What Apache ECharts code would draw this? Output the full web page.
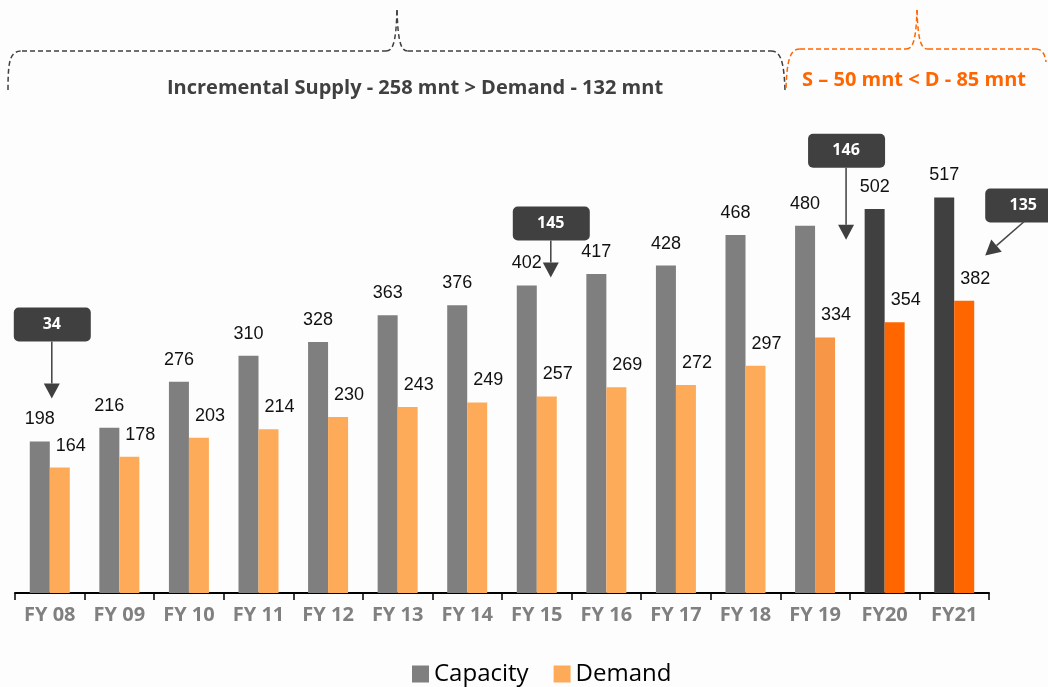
<!DOCTYPE html>
<html>
<head>
<meta charset="utf-8">
<script src="https://cdn.jsdelivr.net/npm/echarts@6/dist/echarts.min.js"></script>
<style>
  html, body { margin: 0; padding: 0; background: #fdfdfe; }
  #chart { width: 1048px; height: 687px; }
</style>
</head>
<body>
<div id="chart"></div>
<script>
// data
const categories = ['FY 08', 'FY 09', 'FY 10', 'FY 11', 'FY 12', 'FY 13', 'FY 14',
  'FY 15', 'FY 16', 'FY 17', 'FY 18', 'FY 19', 'FY20', 'FY21'];
const capacity = [198, 216, 276, 310, 328, 363, 376, 402, 417, 428, 468, 480, 502, 517];
const demand = [164, 178, 203, 214, 230, 243, 249, 257, 269, 272, 297, 334, 354, 382];
const projected = ['FY20', 'FY21'];
const gapYears = ['FY 08', 'FY 15', 'FY 19', 'FY21'];   // callouts = capacity - demand
const supplyNote = 'Incremental Supply - 258 mnt > Demand - 132 mnt';
const projNote = 'S \u2013 50 mnt < D - 85 mnt';

const FONT = '"Open Sans", "DejaVu Sans", sans-serif';
const DARK = '#404040';
const ORANGE = '#ff6600';

var chartDom = document.getElementById('chart');
var myChart = echarts.init(chartDom);

const capData = capacity.map((v, i) => ({
  value: v,
  itemStyle: { color: projected.includes(categories[i]) ? DARK : '#7f7f7f' }
}));
const demData = demand.map((v, i) => {
  let c = '#fdab59';
  if (projected.includes(categories[i])) c = ORANGE;
  else if (categories[i] === 'FY 19') c = '#f79646';
  return { value: v, itemStyle: { color: c } };
});

const labelStyle = {
  show: true,
  position: 'top',
  distance: 13,
  fontFamily: '"Liberation Sans", Arial, sans-serif',
  fontSize: 18,
  color: '#111'
};

var option = {
  backgroundColor: '#fdfdfe',
  animation: false,
  grid: { left: 15, right: 59, top: 134, bottom: 94 },
  legend: {
    data: ['Capacity', 'Demand'],
    left: 407,
    top: 657,
    icon: 'rect',
    itemWidth: 17,
    itemHeight: 17,
    itemGap: 25,
    textStyle: { fontFamily: FONT, fontSize: 24, color: '#000' }
  },
  xAxis: {
    type: 'category',
    data: categories,
    axisLine: { lineStyle: { color: '#000', width: 2 } },
    axisTick: { show: true, length: 7, lineStyle: { color: '#000', width: 1.5 } },
    axisLabel: {
      margin: 12,
      fontFamily: FONT,
      fontWeight: 'bold',
      fontSize: 20,
      color: '#808080'
    }
  },
  yAxis: {
    type: 'value',
    min: 0,
    max: 600,
    show: false,
    splitLine: { show: false }
  },
  series: [
    {
      name: 'Capacity',
      type: 'bar',
      barWidth: 20,
      barGap: '0%',
      itemStyle: { color: '#7f7f7f' },
      label: labelStyle,
      data: capData
    },
    {
      name: 'Demand',
      type: 'bar',
      barWidth: 20,
      itemStyle: { color: '#fdab59' },
      label: Object.assign({}, labelStyle, { offset: [11, 0] }),
      data: demData
    }
  ]
};
myChart.setOption(option);

// arrow = line + triangle head
function arrow(x1, y1, x2, y2) {
  const a = Math.atan2(y2 - y1, x2 - x1);
  const hl = 15, hw = 8;
  const bx = x2 - hl * Math.cos(a), by = y2 - hl * Math.sin(a);
  const px = -Math.sin(a), py = Math.cos(a);
  return [
    { type: 'line', shape: { x1: x1, y1: y1, x2: bx, y2: by },
      style: { stroke: '#4a4a4a', lineWidth: 1.6 } },
    { type: 'polygon',
      shape: { points: [[x2, y2], [bx + hw * px, by + hw * py], [bx - hw * px, by - hw * py]] },
      style: { fill: DARK } }
  ];
}

// callout layout relative to the capacity bar top: box centre, arrow start, arrow tip
const calloutPos = {
  'FY 08': { box: [2, -117], from: [2, -100], to: [2, -43] },
  'FY 15': { box: [14, -62], from: [14, -45], to: [14, -8] },
  'FY 19': { box: [31, -75], from: [31, -58], to: [31, 14] },
  'FY21': { box: [69, 8], from: [70, 24], to: [31, 58] }
};

const graphics = [];
gapYears.forEach(function (yr) {
  const i = categories.indexOf(yr);
  const p = myChart.convertToPixel({ gridIndex: 0 }, [i, capacity[i]]);
  const L = calloutPos[yr];
  const bx = p[0] + L.box[0], by = p[1] + L.box[1];
  graphics.push({
    type: 'rect',
    shape: { x: bx - 38, y: by - 17, width: 77, height: 34, r: 5 },
    style: { fill: DARK }
  });
  graphics.push({
    type: 'text',
    x: bx, y: by,
    style: {
      text: String(capacity[i] - demand[i]),
      fill: '#fff', font: 'bold 16px ' + FONT,
      align: 'center', verticalAlign: 'middle'
    }
  });
  arrow(p[0] + L.from[0], p[1] + L.from[1], p[0] + L.to[0], p[1] + L.to[1])
    .forEach(g => graphics.push(g));
});

// dashed braces: list of segments, 2 points = line, 4 points = bezier
function brace(segs, color) {
  const st = { fill: null, stroke: color, lineWidth: 1.5, lineDash: [5, 3] };
  segs.forEach(function (s) {
    if (s.length === 2) {
      graphics.push({ type: 'line', shape: { x1: s[0][0], y1: s[0][1], x2: s[1][0], y2: s[1][1] }, style: st });
    } else {
      graphics.push({ type: 'bezierCurve', shape: {
        x1: s[0][0], y1: s[0][1], cpx1: s[1][0], cpy1: s[1][1],
        cpx2: s[2][0], cpy2: s[2][1], x2: s[3][0], y2: s[3][1] }, style: st });
    }
  });
}
brace([
  [[8, 90], [8, 60], [10, 51], [22, 51]],
  [[22, 51], [386, 51]],
  [[386, 51], [392, 51], [396, 46], [397, 10]],
  [[397, 10], [398, 46], [402, 51], [408, 51]],
  [[408, 51], [771, 51]],
  [[771, 51], [780, 51], [784, 60], [785, 90]]
], DARK);
brace([
  [[786, 88], [787, 60], [790, 49], [800, 49]],
  [[800, 49], [906, 49]],
  [[906, 49], [912, 49], [916, 44], [917, 10]],
  [[917, 10], [918, 44], [922, 49], [928, 49]],
  [[928, 49], [1036, 49]],
  [[1036, 49], [1042, 49], [1045, 54], [1046, 62]]
], ORANGE);

graphics.push({
  type: 'text', x: 415, y: 88,
  style: { text: supplyNote, fill: DARK, font: 'bold 20px ' + FONT, align: 'center', verticalAlign: 'middle' }
});
graphics.push({
  type: 'text', x: 914, y: 80,
  style: { text: projNote, fill: ORANGE, font: 'bold 20px ' + FONT, align: 'center', verticalAlign: 'middle' }
});

myChart.setOption({ graphic: graphics });
</script>
</body>
</html>
